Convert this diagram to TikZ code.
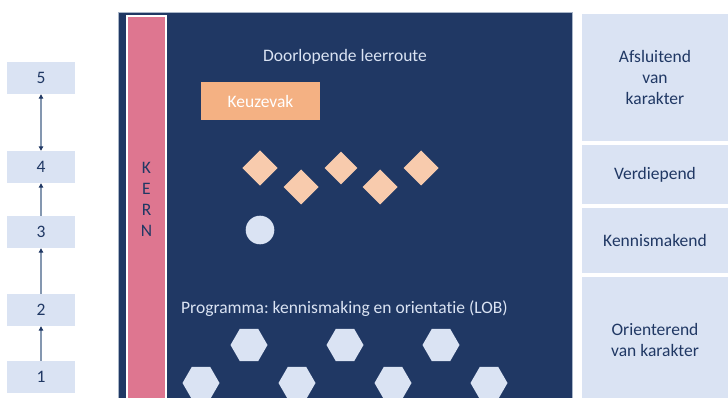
\documentclass[tikz,border=0pt]{standalone}
\usepackage{fontspec}
\setmainfont{Carlito}[Ligatures=NoCommon]
\frenchspacing
\usetikzlibrary{arrows.meta,positioning}

\definecolor{navy}{HTML}{203864}
\definecolor{kernpink}{HTML}{DE7690}
\definecolor{lightblue}{HTML}{DAE3F3}
\definecolor{peach}{HTML}{F4B183}
\definecolor{lightpeach}{HTML}{F8CBAD}
\definecolor{arrowgray}{HTML}{8497B0}

\tikzset{
  basefont/.style={font=\fontsize{17.5}{21}\selectfont},
  levelbox/.style={basefont, fill=lightblue, text=navy, minimum width=68pt, minimum height=32pt, inner sep=0pt},
  stagebox/.style={basefont, fill=lightblue, text=navy, minimum width=146pt, inner sep=0pt, align=center},
  levelarrow/.style={arrowgray, line width=1.5pt, -{Triangle[length=4.5pt,width=4.5pt,color=navy]}},
}

\begin{document}
\begin{tikzpicture}[x=1pt,y=-1pt]
\useasboundingbox (0,0) rectangle (728,398);

% Level boxes on the left
\node[levelbox] (lvl5) at (41,78) {5};
\node[levelbox] (lvl4) at (41,167) {4};
\node[levelbox] (lvl3) at (41,232) {3};
\node[levelbox] (lvl2) at (41,310) {2};
\node[levelbox] (lvl1) at (41,377) {1};

% Arrows between the levels
\draw[levelarrow] (lvl1.north) -- (lvl2.south);
\draw[levelarrow] (lvl2.north) -- (lvl3.south);
\draw[levelarrow] (lvl3.north) -- (lvl4.south);
\draw[levelarrow, {Triangle[length=4.5pt,width=4.5pt,color=navy]}-{Triangle[length=4.5pt,width=4.5pt,color=navy]}] (lvl4.north) -- (lvl5.south);

% Dark main panel
\fill[navy] (118,12) rectangle (572,400);
\draw[arrowgray!70, line width=0.8pt] (118,400) -- (118,12) -- (572,12) -- (572,400);

% KERN bar
\draw[fill=kernpink, draw=white, line width=2pt] (127,16) rectangle (166,402);
\node[basefont, text=navy, align=center, inner sep=0pt] (kern) at (146.5,199.5) {K\\E\\R\\N};

% Titles in the panel
\node[basefont, text=lightblue] (leerroute) at (345,57) {Doorlopende leerroute};
\node[basefont, fill=peach, text=white, minimum width=119pt, minimum height=38pt, inner sep=0pt] (keuzevak) at (260.5,101) {Keuzevak};
\node[basefont, text=lightblue, anchor=west, inner sep=0pt] (programma) at (181,309) {Programma: kennismaking en orientatie (LOB)};

% Diamonds
\foreach \x/\y/\h in {260/168/17.6, 301/187/17.5, 341/168/16.3, 380/187/17.5, 421/168/17.5}
  \fill[lightpeach] (\x,\y) +(-\h,0) -- +(0,-\h) -- +(\h,0) -- +(0,\h) -- cycle;

% Circle
\fill[lightblue] (260,230) circle (14.3pt);

% Hexagons
\foreach \x/\y in {249/345, 345/345, 441/345, 201/383, 297/383, 393/383, 489/383}
  \fill[lightblue] (\x,\y) +(0:18.5) -- +(60:18.5) -- +(120:18.5) -- +(180:18.5) -- +(240:18.5) -- +(300:18.5) -- cycle;

% Stage boxes on the right
\node[stagebox, minimum height=127pt] (afsluitend) at (655,77.5) {Afsluitend\\van\\karakter};
\node[stagebox, minimum height=59pt] (verdiepend) at (655,174.5) {Verdiepend};
\node[stagebox, minimum height=65pt] (kennismakend) at (655,240.5) {Kennismakend};
\node[stagebox, minimum height=126pt] (orienterend) at (655,340) {Orienterend\\van karakter};

\end{tikzpicture}
\end{document}
